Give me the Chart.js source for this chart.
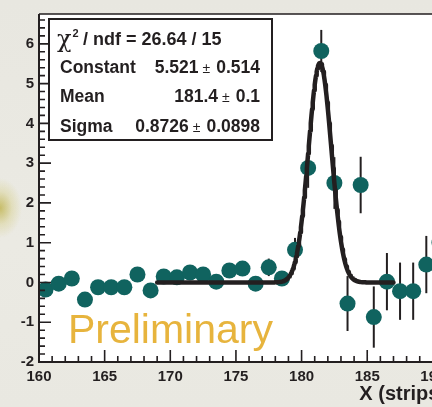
<!DOCTYPE html>
<html>
<head>
<meta charset="utf-8">
<script src="https://cdn.jsdelivr.net/npm/chart.js@4.4.1/dist/chart.umd.min.js"></script>
<style>
  html, body { margin: 0; padding: 0; width: 432px; height: 407px; overflow: hidden; }
  body {
    background:
      radial-gradient(ellipse 22px 30px at 0px 208px, rgba(180,165,40,.65) 0, rgba(205,195,100,.3) 55%, rgba(233,232,224,0) 100%),
      linear-gradient(180deg, #e8e7e0 0%, #ebeae3 60%, #e9e8e1 100%);
  }
  #wrap { position: absolute; left: 0; top: 0; width: 460px; height: 407px; }
</style>
</head>
<body>
<div id="wrap"><canvas id="c" width="460" height="407"></canvas></div>
<script>
// ─── Data ────────────────────────────────────────────────────────────────────
const BIN_CENTERS = [160.5, 161.5, 162.5, 163.5, 164.5, 165.5, 166.5, 167.5, 168.5, 169.5,
                     170.5, 171.5, 172.5, 173.5, 174.5, 175.5, 176.5, 177.5, 178.5, 179.5,
                     180.5, 181.5, 182.5, 183.5, 184.5, 185.5, 186.5, 187.5, 188.5, 189.5, 190.5];
const COUNTS      = [-0.18, -0.03, 0.10, -0.43, -0.12, -0.12, -0.12, 0.20, -0.20, 0.15,
                     0.13, 0.25, 0.20, 0.02, 0.30, 0.35, -0.03, 0.38, 0.10, 0.82,
                     2.88, 5.82, 2.50, -0.53, 2.45, -0.87, 0.02, -0.22, -0.22, 0.45, 1.00];
const ERRORS      = [0.15, 0.15, 0.15, 0.15, 0.15, 0.15, 0.15, 0.15, 0.15, 0.15,
                     0.15, 0.15, 0.15, 0.15, 0.15, 0.15, 0.15, 0.22, 0.15, 0.30,
                     0.50, 0.53, 0.65, 0.69, 0.71, 0.77, 0.72, 0.72, 0.72, 0.72, 0.72];

// Gaussian fit result shown in the stats box
const FIT_CONSTANT = 5.521;
const FIT_MEAN     = 181.4;
const FIT_SIGMA    = 0.8726;
const FIT_RANGE    = [169, 187];

const STAT_LABELS  = ["Constant", "Mean", "Sigma"];
const STAT_VALUES  = ["5.521", "181.4", "0.8726"];
const STAT_ERRORS  = ["0.514", "0.1", "0.0898"];
const CHI2_TEXT    = "/ ndf = 26.64 / 15";

const X_TICKS = [160, 165, 170, 175, 180, 185, 190];
const Y_TICKS = [-2, -1, 0, 1, 2, 3, 4, 5, 6];
const X_MIN = 160, X_MAX = 191;
const Y_MIN = -2,  Y_MAX = 6.75;
const X_TITLE = "X (strips)";
const WATERMARK = "Preliminary";

// ─── Style ───────────────────────────────────────────────────────────────────
const INK    = "#231f20";
const MARKER = "#10635f";
const GOLD   = "#e7b43d";
const FONT   = "'Liberation Sans', Arial, Helvetica, sans-serif";

// fit curve points, evaluated from the fit parameters
const fitPoints = [];
for (let x = FIT_RANGE[0]; x <= FIT_RANGE[1] + 1e-9; x += 0.05) {
    const z = (x - FIT_MEAN) / FIT_SIGMA;
    fitPoints.push({ x: x, y: FIT_CONSTANT * Math.exp(-0.5 * z * z) });
}

// ─── Plugins ─────────────────────────────────────────────────────────────────
const framePlugin = {
    id: "rootFrame",
    beforeDatasetsDraw(chart) {
        const { ctx: c, chartArea: a, scales: { x, y } } = chart;
        c.save();
        c.fillStyle = "#ffffff";
        c.fillRect(a.left, a.top, a.right - a.left, a.bottom - a.top);

        // error bars (under the markers)
        c.strokeStyle = INK;
        c.lineWidth = 2;
        BIN_CENTERS.forEach((bx, i) => {
            const px = x.getPixelForValue(bx);
            c.beginPath();
            c.moveTo(px, y.getPixelForValue(COUNTS[i] + ERRORS[i]));
            c.lineTo(px, y.getPixelForValue(COUNTS[i] - ERRORS[i]));
            c.stroke();
        });

        // watermark
        c.fillStyle = GOLD;
        c.font = "41px " + FONT;
        c.textAlign = "left";
        c.textBaseline = "alphabetic";
        c.fillText(WATERMARK, x.getPixelForValue(162.2), y.getPixelForValue(-1.52));
        c.restore();
    },
    afterDatasetsDraw(chart) {
        const { ctx: c, chartArea: a, scales: { x, y } } = chart;
        c.save();
        c.strokeStyle = INK;

        // top / right frame lines
        c.lineWidth = 1.5;
        c.beginPath();
        c.moveTo(a.left, a.top); c.lineTo(a.right, a.top);
        c.moveTo(a.right, a.top); c.lineTo(a.right, a.bottom);
        c.stroke();

        // axes
        c.lineWidth = 2;
        c.beginPath();
        c.moveTo(a.left, a.top); c.lineTo(a.left, a.bottom + 1);
        c.moveTo(a.left - 1, a.bottom); c.lineTo(a.right, a.bottom);
        c.stroke();

        // inside ticks, ROOT style
        c.lineWidth = 1.6;
        c.beginPath();
        for (let v = X_MIN; v <= X_MAX; v += 1) {
            const px = x.getPixelForValue(v);
            const len = (v % 5 === 0) ? 12 : 6;
            c.moveTo(px, a.bottom); c.lineTo(px, a.bottom - len);
        }
        for (let k = 0; Y_MIN + k * 0.2 <= Y_MAX + 1e-9; k++) {
            const py = y.getPixelForValue(Y_MIN + k * 0.2);
            const len = (k % 5 === 0) ? 12 : 6;
            c.moveTo(a.left, py); c.lineTo(a.left + len, py);
        }
        c.stroke();

        // stats box
        const bl = a.left + 10, bt = a.top + 5, bw = 223, bh = 121;
        c.fillStyle = "#ffffff";
        c.fillRect(bl, bt, bw, bh);
        c.lineWidth = 2;
        c.strokeRect(bl, bt, bw, bh);

        c.fillStyle = INK;
        c.textBaseline = "alphabetic";
        c.textAlign = "left";
        const b0 = bt + 26;
        let tx = bl + 8;
        c.font = "24px 'DejaVu Serif', serif";
        c.fillText("χ", tx, b0 + 2);
        tx += c.measureText("χ").width + 1;
        c.font = "bold 11px " + FONT;
        c.fillText("2", tx, b0 - 8);
        tx += c.measureText("2").width + 3;
        c.font = "bold 18px " + FONT;
        c.fillText(CHI2_TEXT, Math.max(tx, bl + 34), b0);

        const right = bl + bw - 12;
        STAT_LABELS.forEach((lab, i) => {
            const by = bt + 54 + i * 29.3;
            c.textAlign = "left";
            c.font = "bold 17.5px " + FONT;
            c.fillText(lab, bl + 11, by);
            c.textAlign = "right";
            let rx = right;
            c.fillText(STAT_ERRORS[i], rx, by);
            rx -= c.measureText(STAT_ERRORS[i]).width + 6;
            c.font = "14px " + FONT;
            c.fillText("±", rx, by);
            rx -= c.measureText("±").width + 4;
            c.font = "bold 17.5px " + FONT;
            c.fillText(STAT_VALUES[i], rx, by);
        });
        c.restore();
    }
};

// ─── Chart ───────────────────────────────────────────────────────────────────
const ctx = document.getElementById("c").getContext("2d");
new Chart(ctx, {
    type: "scatter",
    plugins: [framePlugin],
    data: {
        datasets: [
            {
                label: "gaus fit",
                type: "line",
                data: fitPoints,
                borderColor: INK,
                borderWidth: 4.5,
                borderJoinStyle: "round",
                borderCapStyle: "round",
                pointRadius: 0,
                tension: 0,
                fill: false,
                order: 0,
            },
            {
                label: "data",
                data: BIN_CENTERS.map((bx, i) => ({ x: bx, y: COUNTS[i] })),
                backgroundColor: MARKER,
                borderColor: MARKER,
                borderWidth: 0,
                pointRadius: 8,
                pointHoverRadius: 8,
                order: 1,
            }
        ]
    },
    options: {
        responsive: false,
        animation: false,
        devicePixelRatio: 1,
        layout: { padding: { top: 12, right: 14, left: 0, bottom: 0 } },
        scales: {
            x: {
                type: "linear",
                min: X_MIN, max: X_MAX,
                afterBuildTicks: s => { s.ticks = X_TICKS.map(v => ({ value: v })); },
                afterFit: s => { s.height = 45; },
                grid: { display: false, drawTicks: false },
                border: { display: false },
                ticks: {
                    color: INK,
                    padding: 6,
                    maxRotation: 0,
                    autoSkip: false,
                    font: { family: FONT, size: 15, weight: "bold" },
                },
                title: {
                    display: true,
                    text: X_TITLE,
                    align: "end",
                    color: INK,
                    padding: { top: 0, bottom: 1 },
                    font: { family: FONT, size: 20, weight: "bold" },
                },
            },
            y: {
                type: "linear",
                min: Y_MIN, max: Y_MAX,
                afterBuildTicks: s => { s.ticks = Y_TICKS.map(v => ({ value: v })); },
                afterFit: s => { s.width = 39; },
                grid: { display: false, drawTicks: false },
                border: { display: false },
                ticks: {
                    color: INK,
                    padding: 5,
                    autoSkip: false,
                    font: { family: FONT, size: 15, weight: "bold" },
                },
            }
        },
        plugins: {
            legend: { display: false },
            tooltip: { enabled: false },
        }
    }
});
</script>
</body>
</html>
